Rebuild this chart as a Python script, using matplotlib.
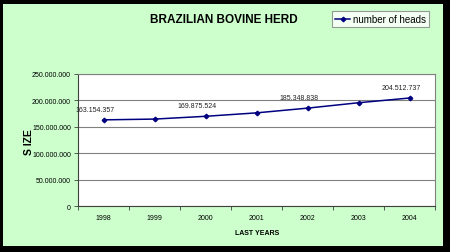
import numpy as np
import matplotlib.pyplot as plt
from matplotlib.ticker import FuncFormatter, FixedLocator
from matplotlib.patches import Rectangle

# datos
anos = ['1998', '1999', '2000', '2001', '2002', '2003', '2004']
cabezas = [163154357, 164621038, 169875524, 176388726, 185348838, 195551576, 204512737]
etiquetas = {0: '163.154.357', 2: '169.875.524', 4: '185.348.838', 6: '204.512.737'}

plt.rcParams['font.family'] = ['Liberation Sans', 'DejaVu Sans']

fig = plt.figure(figsize=(4.5, 2.53), dpi=100)
fig.patch.set_facecolor('black')
# panel verde
fig.add_artist(Rectangle((3/450, 6/253), 440/450, 242/253, transform=fig.transFigure,
                         facecolor='#CCFFCC', edgecolor='none', zorder=-10))

ax = fig.add_axes([78/450, 1-207/253, 357/450, 132/253])
ax.set_facecolor('white')

x = np.arange(len(anos))
linea, = ax.plot(x, cabezas, color='#000080', lw=1.1, marker='D', ms=2.3,
                 label='number of heads', zorder=3)

for i, txt in etiquetas.items():
    ax.annotate(txt, (x[i], cabezas[i]), xytext=(-6, 5), textcoords='offset points',
                ha='center', va='bottom', fontsize=5, color='#222222')

ax.set_xlim(-0.5, 6.5)
ax.set_ylim(0, 250000000)
ax.set_yticks(np.arange(0, 250000001, 50000000))
ax.yaxis.set_major_formatter(FuncFormatter(lambda v, p: f'{int(v):,}'.replace(',', '.')))
ax.yaxis.grid(True, color='#808080', lw=0.8)
ax.set_axisbelow(True)

ax.set_xticks(x)
ax.set_xticklabels(anos)
ax.xaxis.set_minor_locator(FixedLocator(np.arange(-0.5, 7, 1)))
ax.tick_params(axis='x', which='major', length=0, labelsize=5, pad=6)
ax.tick_params(axis='x', which='minor', length=3, width=0.6, color='#404040', direction='out')
ax.tick_params(axis='y', length=3, width=0.6, color='#404040', labelsize=5, pad=2)

for s in ['left', 'bottom']:
    ax.spines[s].set_color('#404040')
    ax.spines[s].set_linewidth(0.8)
for s in ['top', 'right']:
    ax.spines[s].set_color('#808080')
    ax.spines[s].set_linewidth(0.8)

fig.text(0.498, 1-20/253, 'BRAZILIAN BOVINE HERD', ha='center', va='center',
         fontsize=8.5, fontweight='bold')
fig.text(29/450, 1-142/253, 'S IZE', ha='center', va='center', rotation=90,
         fontsize=7.5, fontweight='bold')
fig.text(257/450, 1-234/253, 'LAST YEARS', ha='center', va='center',
         fontsize=5, fontweight='bold')

leg = fig.legend(handles=[linea], loc='upper left', bbox_to_anchor=(332/450, 1-12/253),
                 fontsize=7, frameon=True, fancybox=False, handlelength=1.6,
                 handletextpad=0.3, borderpad=0.3, borderaxespad=0)
leg.get_frame().set_edgecolor('#808080')
leg.get_frame().set_linewidth(0.8)

fig.savefig('out.png', dpi=100, facecolor=fig.get_facecolor())
